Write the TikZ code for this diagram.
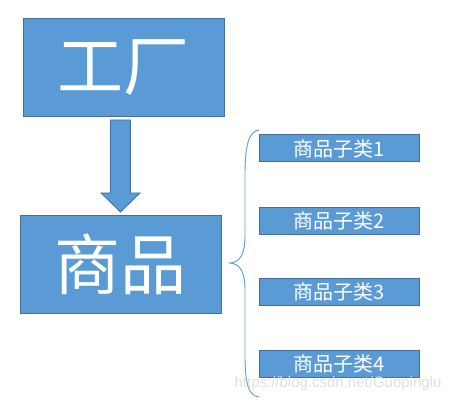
\documentclass[tikz,border=0pt]{standalone}
\usepackage{fontspec}
\newfontfamily\cjk{Noto Sans CJK SC}
\newfontfamily\wmfont{Liberation Sans}
\usepackage{tikz}
\usetikzlibrary{calc}
\definecolor{boxblue}{HTML}{5B9BD5}
\definecolor{boxedge}{HTML}{41719C}
\tikzstyle{bigbox}=[draw=boxedge, fill=boxblue, line width=1pt, text=white, inner sep=0pt, minimum width=201pt, minimum height=98pt, font=\cjk\fontsize{66}{66}\selectfont]
\tikzstyle{subbox}=[draw=boxedge, fill=boxblue, line width=1pt, text=white, inner sep=0pt, minimum width=160pt, minimum height=27pt, font=\cjk\fontsize{20}{20}\selectfont]

\begin{document}
\begin{tikzpicture}[x=1pt,y=-1pt]
\useasboundingbox (0,0) rectangle (456,404);
\node[bigbox] (factory) at (123.5,68) {工厂};
\node[bigbox] (goods) at (120.5,264) {商品};
\node[subbox] (sub1) at (339,148.5) {商品子类1};
\node[subbox] (sub2) at (339,220.5) {商品子类2};
\node[subbox] (sub3) at (339,292) {商品子类3};
\node[subbox] (sub4) at (339,363.5) {商品子类4};
% block arrow
\coordinate (atop) at (120.5,120);
\coordinate (atip) at (120.5,212);
\draw[draw=boxedge, fill=boxblue, line width=0.8pt]
  ($(atop)+(-10,0)$) -- ($(atop)+(10,0)$) -- ($(atip)+(10,-19)$) -- ($(atip)+(19.5,-19)$)
  -- (atip) -- ($(atip)+(-19.5,-19)$) -- ($(atip)+(-10,-19)$) -- cycle;
% brace
\coordinate (bt) at (259,130);
\coordinate (bm) at (230,263);
\coordinate (bb) at (259,397);
\draw[boxblue, line width=0.9pt] (bt) .. controls (249,131) and (245,145) .. (245,175)
  -- (245,235) .. controls (245,255) and (240,262) .. (bm)
  .. controls (240,264) and (245,271) .. (245,291) -- (245,355)
  .. controls (245,385) and (249,396) .. (bb);
\node[text=gray!25, font=\wmfont\fontsize{15}{15}\selectfont] (mark) at (338,384) {https://blog.csdn.net/Guopinglu};
\end{tikzpicture}
\end{document}
